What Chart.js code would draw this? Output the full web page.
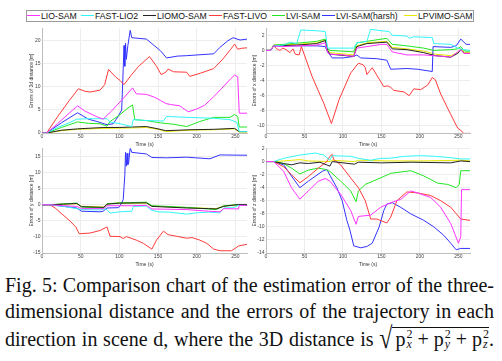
<!DOCTYPE html>
<html>
<head>
<meta charset="utf-8">
<script src="https://cdn.jsdelivr.net/npm/chart.js@4.4.1/dist/chart.umd.min.js"></script>
<style>
    html, body { margin: 0; padding: 0; background: #fff; }
    #page { position: relative; width: 502px; height: 361px; overflow: hidden; }
    canvas { position: absolute; }
    #legend {
        position: absolute; left: 26px; top: 10px; width: 446px; height: 10px;
        border: 1px solid #9a9a9a; background: #fff;
        font: 8.7px "Liberation Sans", Arial, sans-serif; color: #111;
    }
    .lg-item { position: absolute; top: 0; height: 10px; line-height: 10px; white-space: nowrap; }
    .lg-line { display: inline-block; width: 13px; height: 1px; vertical-align: middle; margin-right: 1px; position: relative; top: -1px; }
    #caption {
        position: absolute; left: 5px; top: 272px; width: 489px;
        font-family: "Liberation Serif", "Times New Roman", serif; font-size: 20px; color: #111;
    }
    .ln { line-height: 26px; height: 26px; text-align: justify; text-align-last: justify; white-space: normal; }
    .ln3 { margin-top: 2px; }
    .rad { display: inline-block; font-size: 24px; transform: scaleY(1.25); transform-origin: 50% 60%; line-height: 20px; }
    .under { display: inline-block; border-top: 1px solid #111; line-height: 22px; padding-left: 3px; }
    .ss { display: inline-block; vertical-align: middle; font-size: 12px; line-height: 10px; margin-left: 1px; position: relative; top: -2px; }
    .ss i { display: block; }
    .ss span { display: block; }
</style>
</head>
<body>
<div id="page">
    <canvas id="c3d"></canvas>
    <canvas id="cx"></canvas>
    <canvas id="cy"></canvas>
    <canvas id="cz"></canvas>
    <div id="legend"></div>
    <div id="caption">
        <div class="ln">Fig. 5: Comparison chart of the estimation error of the three-</div>
        <div class="ln">dimensional distance and the errors of the trajectory in each</div>
        <div class="ln ln3">direction in scene d, where the 3D distance is <span style="white-space:nowrap"><span class="rad">√</span><span class="under">p<span class="ss"><span>2</span><i>x</i></span> + p<span class="ss"><span>2</span><i>y</i></span> + p<span class="ss"><span>2</span><i>z</i></span></span>.</span></div>
    </div>
</div>
<script>
// Серии (порядок как в легенде)
const SERIES_NAMES = ['LIO-SAM', 'FAST-LIO2', 'LIOMO-SAM', 'FAST-LIVO', 'LVI-SAM', 'LVI-SAM(harsh)', 'LPVIMO-SAM'];
const SERIES_COLORS = ['#ff33ff', '#33f5f5', '#222222', '#ff3b3b', '#22e622', '#3333ff', '#e8e800'];

const X_TICK_STEP = 50;
const TIME_MAX = 265;

// Ошибка 3D расстояния [t, m]
const d3_lioSam = [[0,0],[6,0],[20,2],[35,4.3],[46,5.9],[55,4.8],[70,3.6],[79,3.0],[90,4.8],[105,7.5],[117,9.8],[122,8.5],[135,8.4],[145,7.8],[153,7.1],[160,6.4],[166,6.2],[178,5.9],[189,4.6],[200,5.2],[210,6.0],[222,7.9],[234,10.0],[244,11.8],[249,12.6],[253,12.2],[255,4.3],[265,4.3]];
const d3_fastLio2 = [[0,0],[6,0],[20,1.2],[35,2.2],[45,3.0],[60,3.1],[84,3.1],[88,2.4],[101,2.0],[116,1.4],[118,2.9],[135,2.7],[157,2.6],[161,3.6],[187,3.4],[222,3.2],[243,2.9],[252,2.3],[255,0.3],[265,0.3]];
const d3_liomoSam = [[0,0],[6,0],[25,0.6],[46,0.9],[80,1.2],[100,1.2],[117,1.3],[135,1.4],[150,0.9],[160,0.5],[190,0.7],[222,0.8],[249,1.0],[255,0.3],[265,0.3]];
const d3_fastLivo = [[0,0],[6,0],[20,3.5],[35,7],[47,9.6],[55,9.1],[62,8.9],[75,9.3],[81,10.5],[86,13.8],[95,12.2],[101,11.4],[106,10.5],[115,12.5],[125,14.5],[139,16.6],[148,14.5],[154,12.7],[160,13.2],[163,13.9],[170,13.3],[187,13.2],[191,12.3],[205,13.0],[222,14.0],[234,16.1],[244,18.2],[249,19.3],[253,18.2],[258,18.4],[265,18.5]];
const d3_lviSam = [[0,0],[6,0],[25,1.2],[46,2.4],[60,2.1],[75,2.0],[84,1.5],[88,2.5],[101,4.0],[110,5.3],[117,6.1],[120,2.9],[135,2.7],[153,2.2],[170,1.9],[187,1.4],[204,2.5],[222,3.4],[243,3.4],[249,4.0],[253,3.6],[255,1.3],[265,1.3]];
const d3_lviHarsh = [[0,0],[6,0],[25,2.2],[46,4.4],[60,3.0],[71,2.5],[84,1.8],[92,2.0],[98,3.5],[103,5.0],[105,14],[106,19],[107,14.5],[108,19.5],[109,16],[111,19],[114,22.3],[116,20.7],[135,20.4],[145,19],[153,17.9],[161,16.3],[175,16.7],[187,16.8],[222,17.2],[230,18.6],[240,20],[247,20.7],[256,20.2],[265,20.4]];
const d3_lpvimoSam = [[0,0],[6,0],[25,0.5],[46,0.8],[80,1.0],[117,1.1],[135,1.2],[150,0.8],[160,0.3],[190,0.6],[222,0.7],[249,0.9],[255,0.2],[265,0.2]];

// Ошибка по x
const dx_lioSam = [[0,0],[6,0],[10,0.6],[20,0.5],[40,0.6],[66,0.7],[77,1.0],[80,-0.3],[83,-0.5],[100,-0.6],[114,-0.8],[118,0.3],[131,0.5],[150,0.8],[157,0.8],[164,-0.2],[183,-0.6],[205,-0.6],[230,-0.8],[240,-0.9],[249,-0.2],[253,0.1],[257,-0.4],[265,-0.4]];
const dx_fastLio2 = [[0,0],[6,0],[10,0.6],[23,0.7],[31,1.1],[40,0.9],[45,2.7],[66,2.6],[77,2.5],[80,0.3],[114,0.3],[118,1.0],[131,1.2],[136,2.8],[150,2.6],[160,2.5],[164,2.0],[183,1.9],[186,1.6],[192,1.8],[216,1.7],[218,0.9],[240,0.8],[249,0.3],[257,0.1],[265,0.0]];
const dx_liomoSam = [[0,0],[6,0],[10,0.6],[40,0.7],[66,0.9],[77,1.3],[80,0],[83,-0.5],[114,-0.8],[118,0.5],[131,0.9],[157,1.1],[164,0.2],[183,0.1],[205,-0.3],[220,-0.7],[240,-0.9],[249,-0.4],[253,0.1],[258,-0.4],[265,-0.4]];
const dx_fastLivo = [[0,0],[6,0],[10,0.6],[14,0.2],[18,0],[22,0.3],[26,0.1],[31,-0.3],[35,0.2],[38,-0.5],[43,-0.6],[46,0.5],[60,-3.5],[75,-7],[85,-9.7],[95,-6.5],[110,-3.0],[120,-1.7],[126,-1.9],[129,-2.3],[131,-3.2],[134,-2.8],[138,-2.3],[147,-3.8],[153,-4.8],[158,-4.7],[162,-4.9],[166,-5.3],[179,-5.5],[186,-6.0],[192,-5.1],[201,-5.2],[210,-4.6],[216,-3.6],[220,-3.9],[227,-5.8],[240,-8.5],[249,-10.3],[253,-10.6],[257,-11.0],[265,-11.0]];
const dx_lviSam = [[0,0],[6,0],[10,0.7],[23,0.8],[45,1.0],[66,1.2],[77,1.5],[80,0.2],[83,0],[114,-0.2],[118,1.0],[131,1.2],[157,1.6],[164,0.8],[183,0.6],[205,0.3],[218,0.0],[240,0.1],[249,0.2],[253,0.5],[258,-0.1],[265,-0.1]];
const dx_lviHarsh = [[0,0],[6,0],[10,0.6],[40,0.6],[66,0.6],[77,0.5],[80,-0.2],[86,-1.0],[100,-1.0],[114,-0.8],[118,-0.6],[123,-1.0],[144,-1.1],[157,-1.3],[162,-2.5],[183,-2.4],[197,-2.5],[216,-2.8],[217,0.5],[240,0.4],[247,0.6],[253,1.5],[260,0.8],[265,0.8]];
const dx_lpvimoSam = [[0,0],[6,0],[10,0.7],[40,0.8],[66,1.0],[77,1.4],[80,0.1],[83,-0.3],[114,-0.6],[118,0.6],[131,1.0],[157,1.2],[164,0.4],[183,0.2],[205,-0.1],[220,-0.5],[240,-0.7],[249,-0.3],[253,0.2],[258,-0.3],[265,-0.3]];

// Ошибка по y
const dy_lioSam = [[0,0],[10,0],[28,-0.3],[45,-0.5],[51,-1.2],[80,-1.2],[84,-0.3],[116,-0.3],[135,-0.2],[142,-1.3],[187,-1.5],[215,-2.0],[230,-2.2],[235,-1.2],[254,-1.3],[255,-0.2],[265,-0.2]];
const dy_fastLio2 = [[0,0],[10,0],[28,-0.5],[45,-1.2],[51,-1.5],[75,-1.6],[79,-1.3],[84,-1.5],[88,-2.6],[100,-2.2],[116,-2.0],[118,-0.5],[135,-0.4],[140,-1.5],[150,-2.2],[165,-2.3],[187,-2.9],[200,-2.5],[215,-2.3],[230,-2.5],[235,-1.0],[247,-0.9],[254,-0.2],[265,-0.2]];
const dy_liomoSam = [[0,0],[10,0],[28,0.2],[45,0.4],[51,-0.6],[80,-0.8],[84,0.2],[100,0.5],[135,0.6],[142,-0.5],[187,-1.0],[215,-1.2],[225,-1.3],[235,-0.5],[254,0.1],[265,0.1]];
const dy_fastLivo = [[0,0],[10,0],[17,-1],[25,-2.7],[36,-5.0],[44,-7.0],[48,-9.0],[62,-8.8],[75,-8.0],[84,-6.9],[88,-9.8],[101,-9.9],[105,-10.5],[109,-9.9],[122,-11],[131,-12],[142,-13.8],[148,-11],[157,-8.2],[163,-9.3],[174,-9.8],[187,-10.4],[194,-10.2],[204,-11.0],[213,-12.0],[222,-13.8],[230,-14.3],[245,-14.3],[250,-13.5],[254,-12.8],[265,-12.3]];
const dy_lviSam = [[0,0],[10,0],[28,0.3],[45,0.5],[51,-0.7],[80,-1.0],[84,0.3],[100,0.6],[135,0.8],[142,-0.3],[187,-0.8],[215,-1.3],[225,-1.5],[235,-0.3],[254,0],[265,0]];
const dy_lviHarsh = [[0,0],[10,0],[28,-0.5],[45,-1.0],[51,-2.0],[75,-2.2],[79,-2.0],[84,-1.0],[99,-0.9],[103,0.5],[105,1.7],[107,9],[108,16.3],[109,12],[110,16],[111,12.5],[112,13],[114,17.8],[116,16.3],[135,15.8],[142,14.7],[161,14.6],[187,14.8],[217,14.3],[230,15.5],[265,15.4]];
const dy_lpvimoSam = [[0,0],[10,0],[28,0.2],[45,0.3],[51,-0.5],[80,-0.7],[84,0.3],[100,0.5],[135,0.5],[142,-0.4],[187,-0.9],[215,-1.1],[225,-1.2],[235,-0.4],[254,0.0],[265,0.0]];

// Ошибка по z
const dz_lioSam = [[0,0],[10,0],[23,-1.5],[33,-4.0],[44,-5.75],[55,-4.5],[68,-3.0],[77,-2.6],[83,-3.0],[97,-5.0],[110,-7.5],[117,-9.6],[120,-8.4],[136,-8.2],[149,-7.0],[162,-6.3],[175,-5.8],[188,-4.5],[197,-4.8],[214,-5.5],[227,-7.0],[240,-9.5],[250,-12.5],[253,-11.5],[254,-4.3],[265,-4.3]];
const dz_fastLio2 = [[0,0],[10,0],[23,0.5],[44,1.0],[64,1.3],[75,1.0],[83,0.2],[86,0.9],[110,0.8],[120,0.5],[136,0.2],[149,0.5],[160,0.5],[180,0.8],[200,0.9],[220,0.8],[240,0.6],[253,0.4],[265,0.4]];
const dz_liomoSam = [[0,0],[10,0],[23,-0.3],[33,-0.5],[44,-0.2],[55,-0.3],[70,-0.1],[83,-0.7],[86,0],[100,-0.2],[115,-0.4],[120,-0.1],[150,-0.2],[190,-0.1],[240,-0.2],[253,0.1],[265,0]];
const dz_fastLivo = [[0,0],[10,0],[23,-0.8],[33,-2.0],[44,-3.25],[55,-2.3],[68,-1.0],[79,0],[83,0.8],[86,1.1],[88,0.3],[97,-0.5],[110,-2.5],[120,-4.0],[129,-6.0],[136,-8.8],[144,-8.8],[157,-9.4],[162,-8.5],[170,-6.0],[183,-4.65],[197,-4.8],[214,-5.2],[227,-6.0],[240,-7.0],[253,-8.8],[265,-9.0]];
const dz_lviSam = [[0,0],[10,0],[23,-0.3],[33,-1.0],[44,-1.9],[55,-1.3],[68,-1.0],[77,-1.2],[83,-1.5],[97,-3.0],[110,-4.5],[117,-6.15],[120,-4.5],[129,-3.5],[149,-2.5],[162,-1.8],[188,-1.4],[205,-2.2],[223,-3.3],[236,-3.5],[247,-4.0],[251,-3.5],[253,-1.4],[265,-1.4]];
const dz_lviHarsh = [[0,0],[10,0],[23,-0.5],[33,-2.2],[44,-4.0],[55,-3.0],[73,-1.5],[79,-1.2],[83,-2.1],[92,-4.0],[99,-6.0],[105,-9.0],[109,-10.5],[114,-12.9],[123,-13.2],[131,-13.0],[138,-12.5],[147,-10.0],[153,-7.5],[157,-6.5],[164,-6.3],[175,-7.0],[188,-8.0],[205,-9.0],[218,-10.0],[231,-11.3],[240,-12.5],[247,-13.5],[253,-13.3],[265,-13.3]];
const dz_lpvimoSam = [[0,0],[10,0],[23,0.1],[44,0.3],[55,0.1],[83,0.0],[86,0.2],[115,0.0],[120,0.2],[160,0.1],[200,0.1],[253,0.2],[265,0.1]];

const FONT = '"Liberation Sans", Arial, sans-serif';

// Легенда
const legendX = [0, 54, 116, 182, 245, 295, 377];
const legendEl = document.getElementById('legend');
SERIES_NAMES.forEach((name, i) => {
    const item = document.createElement('div');
    item.className = 'lg-item';
    item.style.left = legendX[i] + 'px';
    item.innerHTML = `<span class="lg-line" style="background:${SERIES_COLORS[i]}"></span>${name}`;
    legendEl.appendChild(item);
});

function makePlot(canvasId, box, seriesData, yTitle, yMin, yMax, yStep) {
    const canvas = document.getElementById(canvasId);
    canvas.width = box.w;
    canvas.height = box.h;
    canvas.style.left = box.x + 'px';
    canvas.style.top = box.y + 'px';

    const datasets = seriesData.map((pairs, i) => ({
        label: SERIES_NAMES[i],
        data: pairs.map(([x, y]) => ({x, y})),
        borderColor: SERIES_COLORS[i],
        borderWidth: 1,
        pointRadius: 0,
        tension: 0,
        fill: false
    }));

    return new Chart(canvas.getContext('2d'), {
        type: 'line',
        data: {datasets},
        options: {
            responsive: false,
            animation: false,
            layout: {padding: {left: box.padLeft, right: box.padRight, top: 3, bottom: 0}},
            plugins: {legend: {display: false}, tooltip: {enabled: false}},
            scales: {
                x: {
                    type: 'linear',
                    min: 0,
                    max: TIME_MAX,
                    grid: {color: '#ededed', drawTicks: false},
                    border: {color: '#bdbdbd'},
                    ticks: {stepSize: X_TICK_STEP, includeBounds: false, color: '#444', padding: 1, maxRotation: 0,
                            font: {family: FONT, size: 5}},
                    title: {display: true, text: 'Time (s)', color: '#333', padding: 0, font: {family: FONT, size: 5}},
                    afterFit: s => { s.height = 15; }
                },
                y: {
                    min: yMin,
                    max: yMax,
                    grid: {color: '#ededed', drawTicks: false},
                    border: {color: '#bdbdbd'},
                    ticks: {stepSize: yStep, includeBounds: false, color: '#444', padding: 1.5,
                            font: {family: FONT, size: 5}},
                    title: {display: true, text: yTitle, color: '#333', padding: 0, font: {family: FONT, size: 5}},
                    afterFit: s => { s.width = box.axisW; }
                }
            }
        }
    });
}

const leftTop = {x: 0, y: 24, w: 252, h: 124, padLeft: 29, padRight: 5, axisW: 13};
const rightTop = {x: 250, y: 24, w: 252, h: 124, padLeft: 2, padRight: 32, axisW: 14};
const leftBottom = {x: 0, y: 144, w: 252, h: 124, padLeft: 29, padRight: 5, axisW: 13};
const rightBottom = {x: 250, y: 144, w: 252, h: 124, padLeft: 2, padRight: 32, axisW: 14};

makePlot('c3d', leftTop,
    [d3_lioSam, d3_fastLio2, d3_liomoSam, d3_fastLivo, d3_lviSam, d3_lviHarsh, d3_lpvimoSam],
    'Errors of 3d distance [m]', 0, 22.7, 5);
makePlot('cx', rightTop,
    [dx_lioSam, dx_fastLio2, dx_liomoSam, dx_fastLivo, dx_lviSam, dx_lviHarsh, dx_lpvimoSam],
    'Errors of x distance [m]', -10.95, 2.9, 2);
makePlot('cy', leftBottom,
    [dy_lioSam, dy_fastLio2, dy_liomoSam, dy_fastLivo, dy_lviSam, dy_lviHarsh, dy_lpvimoSam],
    'Errors of y distance [m]', -15, 17.5, 5);
makePlot('cz', rightBottom,
    [dz_lioSam, dz_fastLio2, dz_liomoSam, dz_fastLivo, dz_lviSam, dz_lviHarsh, dz_lpvimoSam],
    'Errors of z distance [m]', -14, 2, 2);
</script>
</body>
</html>
